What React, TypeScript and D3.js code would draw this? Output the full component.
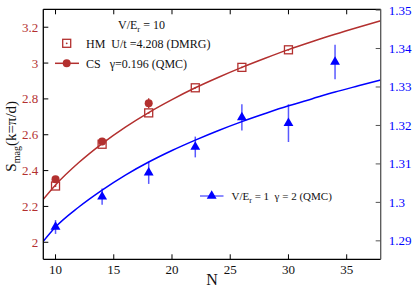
import React from "react";
import * as d3 from "d3";

const hmN = [10, 14, 18, 22, 26, 30];
const hmS = [2.314, 2.547, 2.722, 2.862, 2.976, 3.074];

const csN = [10, 14, 18];
const csS = [2.352, 2.563, 2.776];
const csErr = [0.015, 0.017, 0.028];

const qmcN = [10, 14, 18, 22, 26, 30, 34];
const qmcS = [1.2936, 1.3015, 1.3077, 1.3144, 1.3221, 1.3206, 1.3365];
const qmcErr = [0.0018, 0.0021, 0.0029, 0.0027, 0.0034, 0.0049, 0.0045];

const fitN = [8.95, 10, 12, 14, 16, 18, 20, 22, 24, 26, 28, 30, 32, 34, 36, 37.92];
const fitRed = [2.24, 2.32, 2.445, 2.551, 2.643, 2.724, 2.796, 2.862, 2.921, 2.976, 3.027, 3.075, 3.119, 3.161, 3.2, 3.236];
const fitBlue = [1.2899, 1.2936, 1.2988, 1.3032, 1.3071, 1.3105, 1.3135, 1.3162, 1.3187, 1.321, 1.3231, 1.3251, 1.3269, 1.3287, 1.3303, 1.3318];

const xTicks = [10, 15, 20, 25, 30, 35];
const yLTicks = [2, 2.2, 2.4, 2.6, 2.8, 3, 3.2];
const yRTicks = [1.29, 1.3, 1.31, 1.32, 1.33, 1.34, 1.35];

const RED = "#b3302f";
const BLUE = "#0000ff";
const FONT = "'Liberation Serif', 'DejaVu Serif', serif";

export default function App() {
  const L = 43.3, R = 380.7, T = 9.3, B = 259.3;
  const x = d3.scaleLinear().domain([8.95, 37.92]).range([L, R]);
  const yL = d3.scaleLinear().domain([1.905, 3.3]).range([B, T]);
  const yR = d3.scaleLinear().domain([1.2852, 1.3502]).range([B, T]);

  const redLine = d3
    .line<number>()
    .x((_, i) => x(fitN[i]))
    .y((d) => yL(d))
    .curve(d3.curveMonotoneX)(fitRed) as string;
  const blueLine = d3
    .line<number>()
    .x((_, i) => x(fitN[i]))
    .y((d) => yR(d))
    .curve(d3.curveMonotoneX)(fitBlue) as string;

  const tri = d3.symbol(d3.symbolTriangle, 42)() as string;

  const fmtL = (v: number) => (Number.isInteger(v) ? String(v) : v.toFixed(1));
  const fmtR = (v: number) => String(+v.toFixed(2));

  return (
    <svg
      width={415}
      height={291}
      style={{ position: "absolute", left: 0, top: 0, background: "#fff" }}
      fontFamily={FONT}
    >
      <defs>
        <clipPath id="plot">
          <rect x={L} y={T} width={R - L} height={B - T} />
        </clipPath>
      </defs>

      {/* curves */}
      <g clipPath="url(#plot)">
        <path d={redLine} fill="none" stroke={RED} strokeWidth={1.5} />
        <path d={blueLine} fill="none" stroke={BLUE} strokeWidth={1.5} />
      </g>

      {/* QMC blue triangles */}
      {qmcN.map((n, i) => (
        <g key={"q" + i}>
          <line
            x1={x(n)}
            x2={x(n)}
            y1={yR(qmcS[i] - qmcErr[i])}
            y2={yR(qmcS[i] + qmcErr[i])}
            stroke={BLUE}
            strokeOpacity={0.65}
            strokeWidth={1.5}
          />
          <path d={tri} transform={`translate(${x(n)},${yR(qmcS[i])})`} fill={BLUE} />
        </g>
      ))}

      {/* HM squares */}
      {hmN.map((n, i) => (
        <g key={"h" + i}>
          <rect
            x={x(n) - 4}
            y={yL(hmS[i]) - 4}
            width={8}
            height={8}
            fill="none"
            stroke={RED}
            strokeWidth={1.3}
          />
          <circle cx={x(n)} cy={yL(hmS[i])} r={0.9} fill={RED} />
        </g>
      ))}

      {/* CS circles */}
      {csN.map((n, i) => (
        <g key={"c" + i}>
          <line
            x1={x(n)}
            x2={x(n)}
            y1={yL(csS[i] - csErr[i])}
            y2={yL(csS[i] + csErr[i])}
            stroke={RED}
            strokeWidth={1.3}
          />
          <circle cx={x(n)} cy={yL(csS[i])} r={4} fill={RED} />
        </g>
      ))}

      {/* frame */}
      <line x1={L} x2={R} y1={T} y2={T} stroke="#000" strokeWidth={1.3} />
      <line x1={L} x2={R} y1={B} y2={B} stroke="#000" strokeWidth={1.3} />
      <line x1={L} x2={L} y1={T} y2={B} stroke="#000" strokeWidth={1.3} />
      <line x1={R} x2={R} y1={T} y2={B} stroke="#555" strokeWidth={1.3} />

      {/* x ticks */}
      {xTicks.map((t) => (
        <g key={"x" + t}>
          <line x1={x(t)} x2={x(t)} y1={B} y2={B - 5} stroke="#000" strokeWidth={1} />
          <line x1={x(t)} x2={x(t)} y1={T} y2={T + 5} stroke="#000" strokeWidth={1} />
          <text x={x(t)} y={B + 15} textAnchor="middle" fontSize={13} fill="#111">
            {t}
          </text>
        </g>
      ))}

      {/* left y ticks */}
      {yLTicks.map((t) => (
        <g key={"l" + t}>
          <line x1={L} x2={L + 5} y1={yL(t)} y2={yL(t)} stroke="#000" strokeWidth={1} />
          <text x={L - 5} y={yL(t) + 4.5} textAnchor="end" fontSize={13} fill={RED}>
            {fmtL(t)}
          </text>
        </g>
      ))}

      {/* right y ticks */}
      {yRTicks.map((t) => (
        <g key={"r" + t}>
          <line x1={R} x2={R - 5} y1={yR(t)} y2={yR(t)} stroke="#555" strokeWidth={1} />
          <text x={R + 8} y={yR(t) + 4.5} textAnchor="start" fontSize={13} fill={BLUE}>
            {fmtR(t)}
          </text>
        </g>
      ))}

      {/* axis titles */}
      <text x={(L + R) / 2} y={285} textAnchor="middle" fontSize={16} fill="#111">
        N
      </text>
      <text
        transform={`translate(16,${(T + B) / 2 + 2}) rotate(-90)`}
        textAnchor="middle"
        fontSize={15}
        fill="#111"
      >
        S<tspan fontSize={10} dy={4}>mag</tspan>
        <tspan dy={-4}>(k=π/d)</tspan>
      </text>

      {/* legend top */}
      <text x={118} y={29} fontSize={12} fill="#111">
        V/E<tspan fontSize={8.5} dy={3}>r</tspan>
        <tspan dy={-3}> = 10</tspan>
      </text>
      <rect x={62.7} y={39.3} width={8} height={8} fill="none" stroke={RED} strokeWidth={1.3} />
      <circle cx={66.7} cy={43.3} r={0.9} fill={RED} />
      <text x={86} y={47.5} fontSize={12} fill="#111" style={{ whiteSpace: "pre" }}>
        {"HM  U/t =4.208 (DMRG)"}
      </text>
      <line x1={55} x2={79} y1={63.3} y2={63.3} stroke={RED} strokeWidth={1.5} />
      <circle cx={66.7} cy={63.3} r={4} fill={RED} />
      <text x={86} y={67.5} fontSize={12} fill="#111" style={{ whiteSpace: "pre" }}>
        {"CS   γ=0.196 (QMC)"}
      </text>

      {/* legend blue */}
      <line x1={200} x2={223.5} y1={196} y2={196} stroke={BLUE} strokeOpacity={0.6} strokeWidth={1.5} />
      <path d={tri} transform="translate(211.7,196)" fill={BLUE} />
      <text x={231.5} y={200} fontSize={11} fill="#111" style={{ whiteSpace: "pre" }}>
        V/E<tspan fontSize={8} dy={3}>r</tspan>
        <tspan dy={-3}>{" = 1  γ = 2 (QMC)"}</tspan>
      </text>
    </svg>
  );
}
